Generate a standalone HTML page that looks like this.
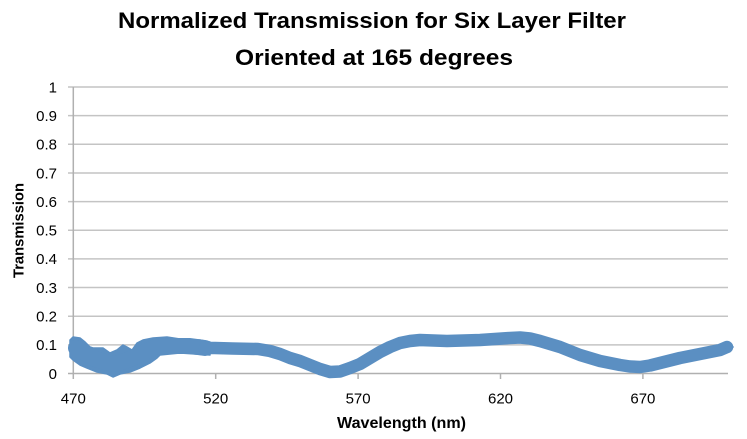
<!DOCTYPE html>
<html>
<head>
<meta charset="utf-8">
<style>
  html,body{margin:0;padding:0;background:#fff;}
  svg{display:block;}
  text{font-family:"Liberation Sans",Arial,sans-serif;fill:#000;}
</style>
</head>
<body>
<svg width="747" height="439" viewBox="0 0 747 439" xmlns="http://www.w3.org/2000/svg">
  <rect x="0" y="0" width="747" height="439" fill="#fff"/>
  <!-- Title -->
  <text x="372" y="28" font-size="22" font-weight="bold" text-anchor="middle" textLength="508" lengthAdjust="spacingAndGlyphs">Normalized Transmission for Six Layer Filter</text>
  <text x="374" y="65" font-size="22" font-weight="bold" text-anchor="middle" textLength="278" lengthAdjust="spacingAndGlyphs">Oriented at 165 degrees</text>

  <!-- Gridlines -->
  <g stroke="#c4c4c4" stroke-width="1.5">
    <line x1="68" y1="87" x2="728" y2="87"/>
    <line x1="68" y1="115.65" x2="728" y2="115.65"/>
    <line x1="68" y1="144.3" x2="728" y2="144.3"/>
    <line x1="68" y1="172.95" x2="728" y2="172.95"/>
    <line x1="68" y1="201.6" x2="728" y2="201.6"/>
    <line x1="68" y1="230.25" x2="728" y2="230.25"/>
    <line x1="68" y1="258.9" x2="728" y2="258.9"/>
    <line x1="68" y1="287.55" x2="728" y2="287.55"/>
    <line x1="68" y1="316.2" x2="728" y2="316.2"/>
    <line x1="68" y1="344.85" x2="728" y2="344.85"/>
  </g>
  <!-- Axes -->
  <g stroke="#b0b0b0" stroke-width="1.5">
    <line x1="73.3" y1="87" x2="73.3" y2="373.5"/>
    <line x1="68" y1="373.5" x2="728" y2="373.5"/>
    <line x1="73.3" y1="373.5" x2="73.3" y2="379"/>
    <line x1="215.7" y1="373.5" x2="215.7" y2="379"/>
    <line x1="358.1" y1="373.5" x2="358.1" y2="379"/>
    <line x1="500.5" y1="373.5" x2="500.5" y2="379"/>
    <line x1="642.9" y1="373.5" x2="642.9" y2="379"/>
  </g>

  <!-- Y tick labels -->
  <g font-size="15" text-anchor="end">
    <text x="57" y="92.3">1</text>
    <text x="57" y="121">0.9</text>
    <text x="57" y="149.6">0.8</text>
    <text x="57" y="178.3">0.7</text>
    <text x="57" y="206.9">0.6</text>
    <text x="57" y="235.6">0.5</text>
    <text x="57" y="264.2">0.4</text>
    <text x="57" y="292.9">0.3</text>
    <text x="57" y="321.5">0.2</text>
    <text x="57" y="350.2">0.1</text>
    <text x="57" y="378.8">0</text>
  </g>
  <!-- X tick labels -->
  <g font-size="15" text-anchor="middle">
    <text x="73.3" y="403.5">470</text>
    <text x="215.7" y="403.5">520</text>
    <text x="358.1" y="403.5">570</text>
    <text x="500.5" y="403.5">620</text>
    <text x="642.9" y="403.5">670</text>
  </g>

  <!-- Axis titles -->
  <text x="401.5" y="428" font-size="16" font-weight="bold" text-anchor="middle" textLength="129" lengthAdjust="spacingAndGlyphs">Wavelength (nm)</text>
  <text transform="translate(23.5,230.5) rotate(-90)" font-size="15" font-weight="bold" text-anchor="middle" textLength="95" lengthAdjust="spacingAndGlyphs">Transmission</text>

  <!-- Data series -->
  <g fill="#5b8fc2" stroke="#5b8fc2">
    <polygon stroke-width="1.5" stroke-linejoin="round" points="70,340 73,337 80,338 85,342 90,347 93,348 103,348 110,353 117,350 123,345 127,347 132,350 137,343 143,340 153,338 167,337 180,339 200,340 210,342 210,355 180,353 160,355 157,358 150,363 140,368 130,372 120,374 113,377 107,374 97,372 87,368 80,365 73,360 70,357"/>
    <polyline fill="none" stroke-width="16" stroke-linejoin="round" stroke-linecap="round" points="76,348 85,353 95,359 105,362 115,364 125,361 135,357 145,352 155,347 170,346 190,346 205,348"/>
    <polyline fill="none" stroke-width="12.5" stroke-linejoin="round" stroke-linecap="round" points="205,348 215,348 232,348.5 258,349 270,351 280,354 290,358 300,361 310,365 320,369 330,372 340,371.5 350,368 360,364 370,358 380,352 390,347 400,343 410,341 420,340 447,341 480,340 510,338 520,337.5 530,338.5 540,341 550,344 560,347 570,351 580,355 590,358 600,361 610,363 620,365 630,366.5 640,367 650,365.5 660,363 670,360.5 680,358 690,356 700,354 710,352 720,350 727,347"/>
    <polygon stroke="none" points="729,341 734,347 729,353 724,347"/>
  </g>
</svg>
</body>
</html>
